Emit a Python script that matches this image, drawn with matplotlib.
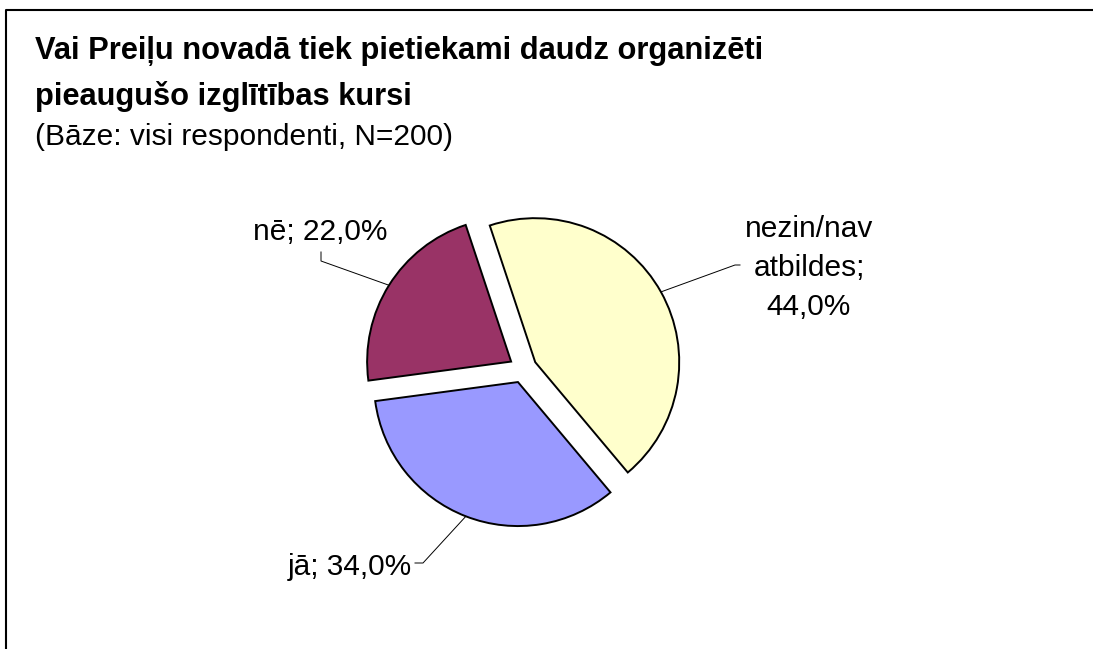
import numpy as np
import matplotlib.pyplot as plt
from matplotlib.lines import Line2D

# data
labels = ['jā', 'nē', 'nezin/nav atbildes']
values = [34.0, 22.0, 44.0]
colors = ['#9999FF', '#993366', '#FFFFCC']

title_lines = ['Vai Preiļu novadā tiek pietiekami daudz organizēti',
               'pieaugušo izglītības kursi']
subtitle = '(Bāze: visi respondenti, N=200)'

W, H = 1093, 649
plt.rcParams['font.family'] = ['Liberation Sans', 'DejaVu Sans']

fig = plt.figure(figsize=(W / 100, H / 100), dpi=100)
ax = fig.add_axes([0, 0, 1, 1])


def py(y):
    # pixel row (from top) -> data y (from bottom)
    return H - y


radius = 144
wedges, _ = ax.pie(values, colors=colors, startangle=310, counterclock=False,
                   center=(523, py(369)), radius=radius,
                   explode=[14] * 3,
                   wedgeprops=dict(edgecolor='black', linewidth=1.4))
ax.set_xlim(0, W)
ax.set_ylim(0, H)
ax.set_aspect('auto')
ax.axis('off')


def rim_point(w):
    mid = np.deg2rad((w.theta1 + w.theta2) / 2)
    cx, cy = w.center
    return cx + w.r * np.cos(mid), cy + w.r * np.sin(mid)


# label texts with leader lines (elbow positions in pixels)
label_fs = 21.5
txt = [f'{l}; {v:.1f}%'.replace('.', ',') for l, v in zip(labels, values)]

# jā
x0, y0 = rim_point(wedges[0])
ax.plot([x0, 423, 415], [y0, py(563), py(563)], color='black', lw=0.7)
ax.text(412, py(575), txt[0], fontsize=label_fs, ha='right', va='baseline')

# nē
x0, y0 = rim_point(wedges[1])
ax.plot([x0, 321, 321], [y0, py(261), py(252)], color='black', lw=0.7)
ax.text(320, py(240), txt[1], fontsize=label_fs, ha='center', va='baseline')

# nezin/nav atbildes (wrapped over three lines)
x0, y0 = rim_point(wedges[2])
ax.plot([x0, 735, 740], [y0, py(265), py(265)], color='black', lw=0.7)
for i, part in enumerate(txt[2].replace('; ', ';\n').replace(' ', '\n').split('\n')):
    ax.text(809, py(237 + 39 * i), part, fontsize=label_fs, ha='center',
            va='baseline')

# title
fig.text(35 / W, 1 - 59 / H, title_lines[0], fontsize=22.2, fontweight='bold',
         va='baseline')
fig.text(35 / W, 1 - 105 / H, title_lines[1], fontsize=22.2, fontweight='bold',
         va='baseline')
fig.text(35 / W, 1 - 145 / H, subtitle, fontsize=21.5, va='baseline')

# frame (left and top edges)
fig.add_artist(Line2D([6 / W, 6 / W, 1.01], [-0.01, 1 - 10 / H, 1 - 10 / H],
                      transform=fig.transFigure, color='black', lw=1.5))

fig.savefig('out.png', dpi=100, facecolor='white')
